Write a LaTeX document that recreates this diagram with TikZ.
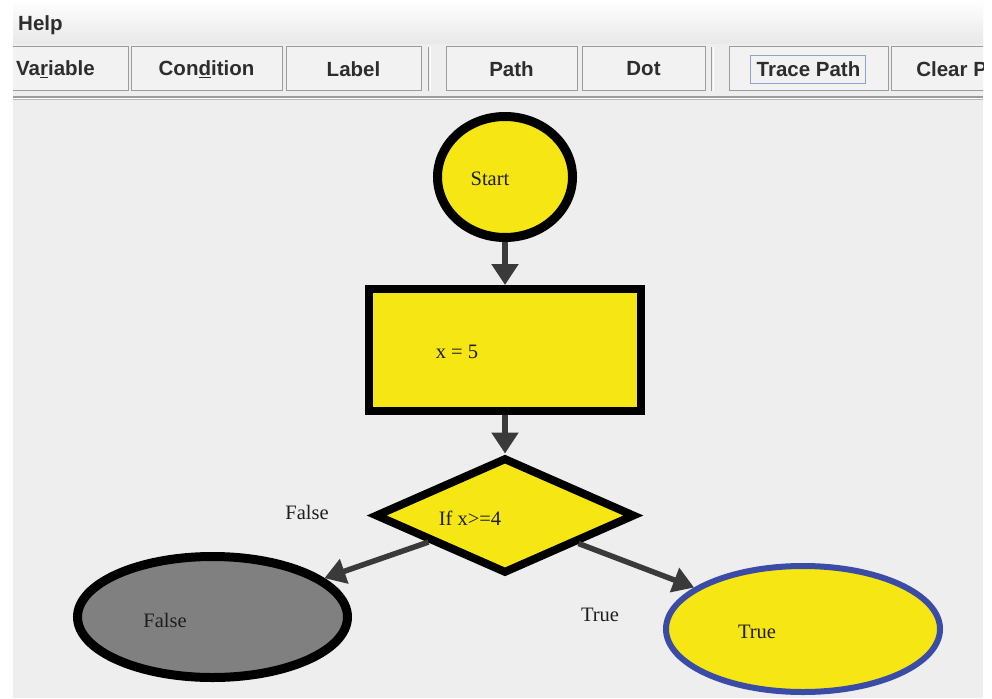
\documentclass[tikz,border=0pt]{standalone}
\usepackage{fontspec}
\setmainfont{Liberation Serif}
\newfontfamily\uifont{Liberation Sans}
\usetikzlibrary{arrows.meta,shapes.geometric}
\definecolor{canvasbg}{RGB}{238,238,238}
\definecolor{menugrey}{RGB}{232,232,232}
\definecolor{btnborder}{RGB}{156,156,156}
\definecolor{btnfill}{RGB}{242,242,242}
\definecolor{uitext}{RGB}{45,45,45}
\definecolor{focusblue}{RGB}{140,165,200}
\definecolor{flowyellow}{RGB}{245,230,20}
\definecolor{flowgrey}{RGB}{128,128,128}
\definecolor{flowblue}{RGB}{58,76,165}
\definecolor{arrowgrey}{RGB}{58,58,58}
\definecolor{txtdark}{RGB}{30,30,30}
\begin{document}
\begin{tikzpicture}[x=1pt,y=-1pt,
  btn/.style={draw=btnborder,line width=1pt,fill=btnfill,rectangle,inner sep=0pt,
    minimum height=44pt,font=\uifont\bfseries\fontsize{20.5}{24}\selectfont,text=uitext},
  uitxt/.style={font=\uifont\bfseries\fontsize{20.5}{24}\selectfont,text=uitext,inner sep=0pt},
  shapebase/.style={fill=flowyellow,draw=black,inner sep=0pt},
  startsh/.style={shapebase,ellipse,line width=9pt,minimum width=135pt,minimum height=121pt},
  assignsh/.style={shapebase,rectangle,line width=8pt,minimum width=272pt,minimum height=122pt},
  condsh/.style={shapebase,diamond,line width=8pt,minimum width=260pt,minimum height=116pt},
  falsesh/.style={shapebase,ellipse,fill=flowgrey,line width=9pt,minimum width=270pt,minimum height=121pt},
  truesh/.style={shapebase,ellipse,draw=flowblue,line width=6pt,minimum width=274pt,minimum height=126pt},
  flowtxt/.style={font=\fontsize{20.5}{24}\selectfont,text=txtdark,inner sep=0pt},
  vconn/.style={draw=arrowgrey,line width=6.5pt,-{Triangle[width=26pt,length=21pt]}},
  dconn/.style={draw=arrowgrey,line width=5.5pt,-{Triangle[width=25pt,length=21pt]}}
]
\useasboundingbox (0,0) rectangle (992,698);
\fill[white] (0,0) rectangle (992,698);
\begin{scope}
\clip (13,0) rectangle (983,698);
\shade[top color=white,bottom color=menugrey] (13,0) rectangle (983,44);
\fill[canvasbg] (13,44) rectangle (983,698);
\node[uitxt,anchor=west] (help) at (18,25) {Help};
% toolbar buttons
\node[btn,minimum width=145pt] (bvar) at (55.5,69) {Va\underline{r}iable};
\node[btn,minimum width=151pt] (bcond) at (206.5,69) {Con\underline{d}ition};
\node[btn,minimum width=135pt] (blabel) at (353.5,69) {Label};
\node[btn,minimum width=131pt] (bpath) at (511.5,69) {Path};
\node[btn,minimum width=123pt] (bdot) at (643.5,69) {Dot};
\node[btn,minimum width=159pt] (btrace) at (808.5,69) {Trace Path};
\node[draw=focusblue,line width=0.8pt,rectangle,minimum width=115pt,minimum height=28pt] (focus) at (807.5,69) {};
\node[btn,minimum width=152pt] (bclear) at (967,69) {Clear Path};
% toolbar separators
\draw[btnborder,line width=1pt] (428,47) -- (428,91);
\draw[white,line width=1pt] (430,47) -- (430,91);
\draw[btnborder,line width=1pt] (711,47) -- (711,91);
\draw[white,line width=1pt] (713,47) -- (713,91);
% horizontal separator
\draw[btnborder,line width=1.2pt] (13,97) -- (983,97);
\draw[white,line width=1pt] (13,98.5) -- (983,98.5);
\draw[btnborder!70,line width=1pt] (13,100) -- (983,100);
\end{scope}
% flowchart
\node[startsh] (start) at (505,177) {};
\node[assignsh] (assign) at (505,350) {};
\node[condsh] (cond) at (505,515.5) {};
\node[falsesh] (falsend) at (212.5,617) {};
\node[truesh] (truend) at (803,629) {};
\draw[vconn] (start) -- (assign);
\draw[vconn] (assign) -- (cond);
\draw[dconn] (cond) -- (falsend);
\draw[dconn] (cond) -- (truend);
\node[flowtxt] (starttxt) at (490,179) {Start};
\node[flowtxt] (assigntxt) at (457,352) {x = 5};
\node[flowtxt] (condtxt) at (470,518) {If x>=4};
\node[flowtxt] (falselbl) at (307,512) {False};
\node[flowtxt] (falsetxt) at (165,620) {False};
\node[flowtxt] (truelbl) at (600,615) {True};
\node[flowtxt] (truetxt) at (757,632) {True};
\end{tikzpicture}
\end{document}
